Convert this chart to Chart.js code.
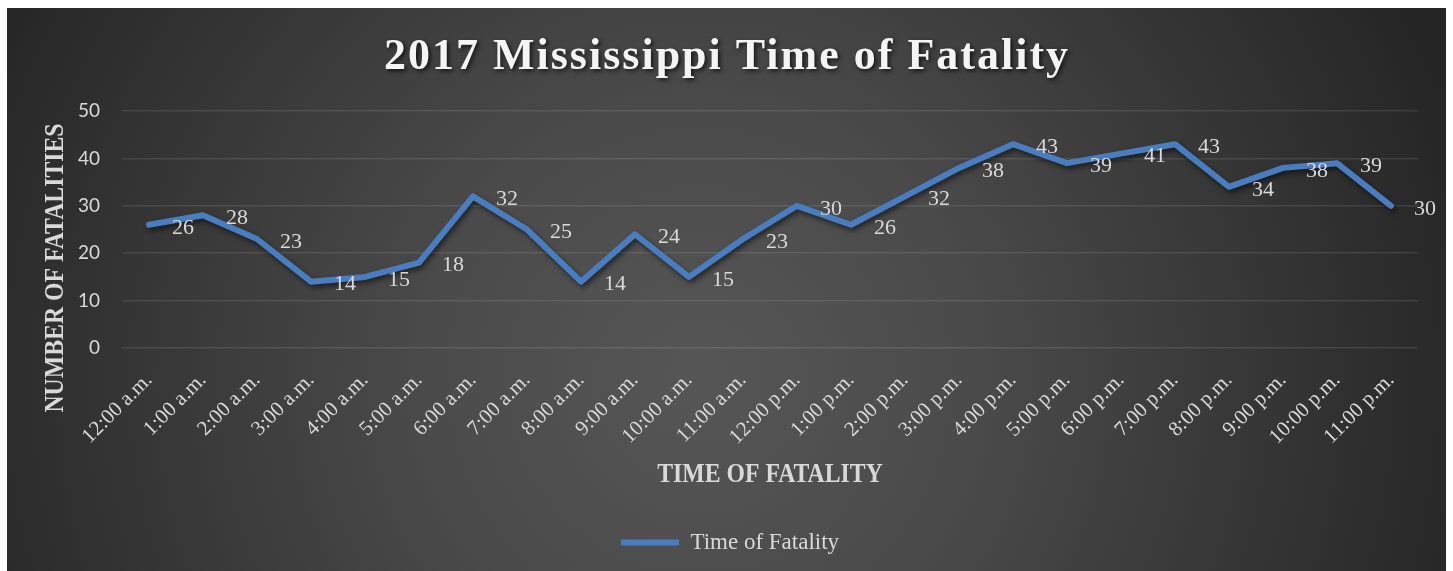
<!DOCTYPE html>
<html>
<head>
<meta charset="utf-8">
<title>2017 Mississippi Time of Fatality</title>
<script src="https://cdn.jsdelivr.net/npm/chart.js@4.4.1/dist/chart.umd.min.js"></script>
<style>
  html, body { margin: 0; padding: 0; background: #ffffff; }
  #fatalityChart { display: block; }
</style>
</head>
<body>
<canvas id="fatalityChart" width="1453" height="571"></canvas>
<script>
const hours = ['12:00 a.m.', '1:00 a.m.', '2:00 a.m.', '3:00 a.m.', '4:00 a.m.', '5:00 a.m.',
    '6:00 a.m.', '7:00 a.m.', '8:00 a.m.', '9:00 a.m.', '10:00 a.m.', '11:00 a.m.',
    '12:00 p.m.', '1:00 p.m.', '2:00 p.m.', '3:00 p.m.', '4:00 p.m.', '5:00 p.m.',
    '6:00 p.m.', '7:00 p.m.', '8:00 p.m.', '9:00 p.m.', '10:00 p.m.', '11:00 p.m.'];
const fatalities = [26, 28, 23, 14, 15, 18, 32, 25, 14, 24, 15, 23,
    30, 26, 32, 38, 43, 39, 41, 43, 34, 38, 39, 30];
const yTicks = [0, 10, 20, 30, 40, 50];

const chartTitle = '2017 Mississippi Time of Fatality';
const yTitle = 'NUMBER OF FATALITIES';
const xTitle = 'TIME OF FATALITY';
const seriesName = 'Time of Fatality';

const lightText = '#d9d9d9';
const serif = '"Liberation Serif", "Times New Roman", serif';

// dark radial panel behind everything
const panelBackground = {
    id: 'panelBackground',
    beforeDraw(chart) {
        const ctx = chart.ctx;
        ctx.save();
        ctx.fillStyle = '#ffffff';
        ctx.fillRect(0, 0, chart.width, chart.height);
        const g = ctx.createRadialGradient(700, 380, 0, 700, 380, 800);
        g.addColorStop(0, '#565656');
        g.addColorStop(0.35, '#4a4a4a');
        g.addColorStop(1, '#252525');
        ctx.fillStyle = g;
        ctx.fillRect(7, 8, 1439, chart.height - 8);
        ctx.restore();
    }
};

// soft shadow under the line
const lineShadow = {
    id: 'lineShadow',
    beforeDatasetDraw(chart) {
        const ctx = chart.ctx;
        ctx.save();
        ctx.shadowColor = 'rgba(0, 0, 0, 0.55)';
        ctx.shadowBlur = 5;
        ctx.shadowOffsetX = 2;
        ctx.shadowOffsetY = 3;
    },
    afterDatasetDraw(chart) {
        chart.ctx.restore();
    }
};

// value labels to the right of each point
const valueLabels = {
    id: 'valueLabels',
    afterDatasetsDraw(chart) {
        const ctx = chart.ctx;
        const meta = chart.getDatasetMeta(0);
        ctx.save();
        ctx.font = '22px ' + serif;
        ctx.fillStyle = lightText;
        ctx.textAlign = 'left';
        ctx.textBaseline = 'middle';
        meta.data.forEach((pt, i) => {
            ctx.fillText(String(fatalities[i]), pt.x + 23, pt.y + 3);
        });
        ctx.restore();
    }
};

// title and axis titles (narrow serif look)
const titles = {
    id: 'titles',
    afterDraw(chart) {
        const ctx = chart.ctx;
        const area = chart.chartArea;

        ctx.save();
        ctx.font = 'bold 44px ' + serif;
        ctx.letterSpacing = '2px';
        ctx.fillStyle = '#f4f4f4';
        ctx.textAlign = 'center';
        ctx.textBaseline = 'alphabetic';
        ctx.shadowColor = 'rgba(0, 0, 0, 0.7)';
        ctx.shadowBlur = 4;
        ctx.shadowOffsetX = 2;
        ctx.shadowOffsetY = 2;
        ctx.fillText(chartTitle, 727, 69);
        ctx.restore();

        ctx.save();
        ctx.font = 'bold 27px ' + serif;
        ctx.fillStyle = lightText;
        ctx.textAlign = 'center';
        ctx.textBaseline = 'alphabetic';
        ctx.translate(63, 268);
        ctx.rotate(-Math.PI / 2);
        ctx.scale(0.88, 1);
        ctx.fillText(yTitle, 0, 0);
        ctx.restore();

        ctx.save();
        ctx.font = 'bold 27px ' + serif;
        ctx.fillStyle = lightText;
        ctx.textAlign = 'center';
        ctx.textBaseline = 'alphabetic';
        ctx.translate((area.left + area.right) / 2, 482);
        ctx.scale(0.88, 1);
        ctx.fillText(xTitle, 0, 0);
        ctx.restore();
    }
};

function createFatalityChart() {
    const ctx = document.getElementById('fatalityChart').getContext('2d');
    new Chart(ctx, {
        type: 'line',
        data: {
            labels: hours,
            datasets: [{
                label: seriesName,
                data: fatalities,
                borderColor: '#4a7dbf',
                backgroundColor: '#4a7dbf',
                borderWidth: 6,
                borderCapStyle: 'round',
                borderJoinStyle: 'round',
                tension: 0,
                pointRadius: 0,
                pointHoverRadius: 0,
                fill: false
            }]
        },
        options: {
            responsive: false,
            animation: false,
            layout: {
                padding: { top: 111, right: 35, bottom: 7, left: 42 }
            },
            plugins: {
                title: { display: false },
                tooltip: { enabled: false },
                legend: {
                    position: 'bottom',
                    labels: {
                        usePointStyle: true,
                        pointStyle: 'line',
                        pointStyleWidth: 58,
                        color: lightText,
                        font: { family: serif, size: 23 },
                        padding: 10
                    }
                }
            },
            scales: {
                x: {
                    offset: true,
                    grid: { display: false, drawTicks: false },
                    border: { display: false },
                    ticks: {
                        autoSkip: false,
                        minRotation: 45,
                        maxRotation: 45,
                        padding: 20,
                        color: lightText,
                        font: { family: serif, size: 21 }
                    },
                    afterFit(scale) {
                        scale.height = 173;
                    }
                },
                y: {
                    min: 0,
                    max: 50,
                    afterBuildTicks(scale) {
                        scale.ticks = yTicks.map(v => ({ value: v }));
                    },
                    grid: {
                        color: 'rgba(255, 255, 255, 0.1)',
                        lineWidth: 1.5,
                        drawTicks: false
                    },
                    border: { display: false },
                    ticks: {
                        padding: 22,
                        color: lightText,
                        font: { family: 'Lato, "Open Sans", sans-serif', size: 19 }
                    },
                    afterFit(scale) {
                        scale.width = 80;
                    }
                }
            }
        },
        plugins: [panelBackground, lineShadow, valueLabels, titles]
    });
}

document.addEventListener('DOMContentLoaded', createFatalityChart);
</script>
</body>
</html>
